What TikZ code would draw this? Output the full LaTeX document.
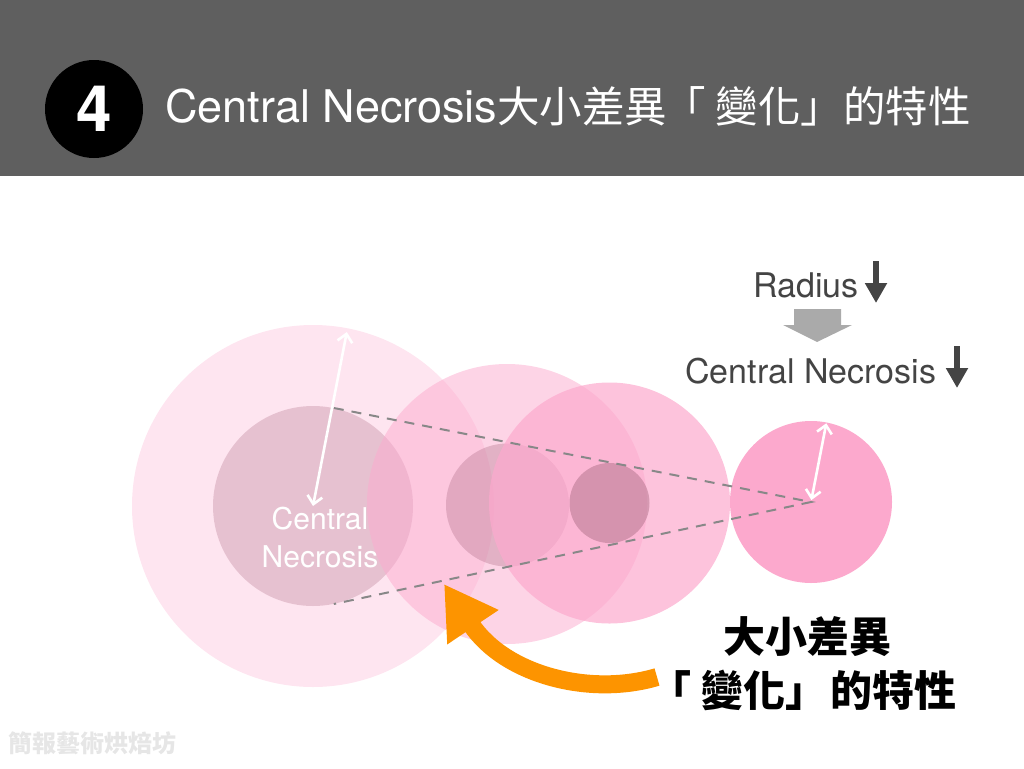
\documentclass[tikz,border=0pt]{standalone}
\usepackage{fontspec}
\setmainfont{TeX Gyre Heros}
\newfontfamily\cjk{Noto Sans CJK TC}
\usetikzlibrary{arrows.meta}
\definecolor{headgray}{HTML}{5F5F5F}
\definecolor{pinkbase}{HTML}{FCA9CD}
\definecolor{necro}{HTML}{B07088}
\definecolor{dashgray}{HTML}{888888}
\definecolor{txtgray}{HTML}{444444}
\definecolor{blockgray}{HTML}{AAAAAA}
\definecolor{orangeA}{HTML}{FD9400}
\definecolor{wmgray}{HTML}{E6E6E6}
\begin{document}
\begin{tikzpicture}[x=1pt,y=-1pt,
  disc/.style={circle, inner sep=0pt, draw=none, fill=pinkbase, minimum size=#1},
  core/.style={circle, inner sep=0pt, draw=none, fill=necro, minimum size=#1},
  tangent/.style={dashgray, line width=2pt, dash pattern=on 10pt off 8pt},
  radiusarrow/.style={white, line width=2.6pt, {Straight Barb[length=8pt,width=15pt]}-{Straight Barb[length=8pt,width=15pt]}},
  downarrow/.style={txtgray, line width=6pt, -{Triangle[length=20pt,width=21pt]}},
  bigarrow/.style={orangeA, line width=18pt, -{Triangle[length=52pt,width=58pt]}},
  graytext/.style={anchor=base west, inner sep=0pt, text=txtgray, font=\fontsize{34}{34}\selectfont},
  whitetext/.style={anchor=base, inner sep=0pt, text=white, font=\fontsize{30}{30}\selectfont},
  bigcjk/.style={anchor=base, inner sep=0pt, text=black, font=\cjk\bfseries\fontsize{42}{42}\selectfont}
]
\useasboundingbox (0,0) rectangle (1024,768);
\fill[headgray] (0,0) rectangle (1024,176);
\node[circle, fill=black, minimum size=98pt, inner sep=0pt, text=white, font=\bfseries\fontsize{64}{64}\selectfont] (badge) at (94,109) {4};
\node[anchor=base west, inner sep=0pt, text=white] (title) at (165,122) {\fontsize{45}{50}\selectfont Central Necrosis{\cjk\fontsize{42.5}{50}\selectfont 大小差異\hspace{-4pt}「\hspace{10pt}變化」的特性}};

% circles
\node[disc=362pt, fill opacity=0.3] (c1) at (313,506) {};
\node[core=200pt, fill opacity=0.3] (n1) at (313,506) {};
\node[disc=280pt, fill opacity=0.5] (c2) at (507,504) {};
\node[core=123pt, fill opacity=0.35] (n2) at (507.5,505) {};
\node[disc=241pt, fill opacity=0.7] (c3) at (609.5,503) {};
\node[core=80pt, fill opacity=0.5] (n3) at (609.5,503) {};
\node[disc=162pt] (c4) at (811,502) {};

\draw[tangent] (n1.78.5) -- (c4.center) -- (n1.-78.5);

\draw[radiusarrow, shorten >=4pt] (c1.center) -- (c1.79);
\draw[radiusarrow, shorten <=2pt, shorten >=1pt] (c4.center) -- (c4.79);

\node[whitetext] (cn1) at (320,529) {Central};
\node[whitetext] (cn2) at (320,567) {Necrosis};

% right side
\node[graytext] (rad) at (753,297) {Radius};
\coordinate (ra1) at (876,261);
\coordinate (ra2) at (876,303);
\draw[downarrow] (ra1) -- (ra2);
\fill[blockgray] (794,309) -- (841,309) -- (841,325) -- (852,325) -- (817,342) -- (783,325) -- (794,325) -- cycle;
\node[graytext] (cnr) at (685,383) {Central Necrosis};
\coordinate (cb1) at (957,346);
\coordinate (cb2) at (957,388);
\draw[downarrow] (cb1) -- (cb2);

% orange arrow
\coordinate (otail) at (657,677);
\coordinate (otip) at (444,584);
\draw[bigarrow] (otail) .. controls (590,697) and (505,675) .. (otip);

\node[bigcjk] (t1) at (807,652) {大小差異};
\node[bigcjk] (t2) at (808,706) {\hspace{-10pt}「\hspace{10pt}變化」\hspace{4pt}的特性};

\node[anchor=base west, inner sep=0pt, text=wmgray, font=\cjk\bfseries\fontsize{24}{24}\selectfont] (wm) at (8,752) {簡報藝術烘焙坊};
\end{tikzpicture}
\end{document}
